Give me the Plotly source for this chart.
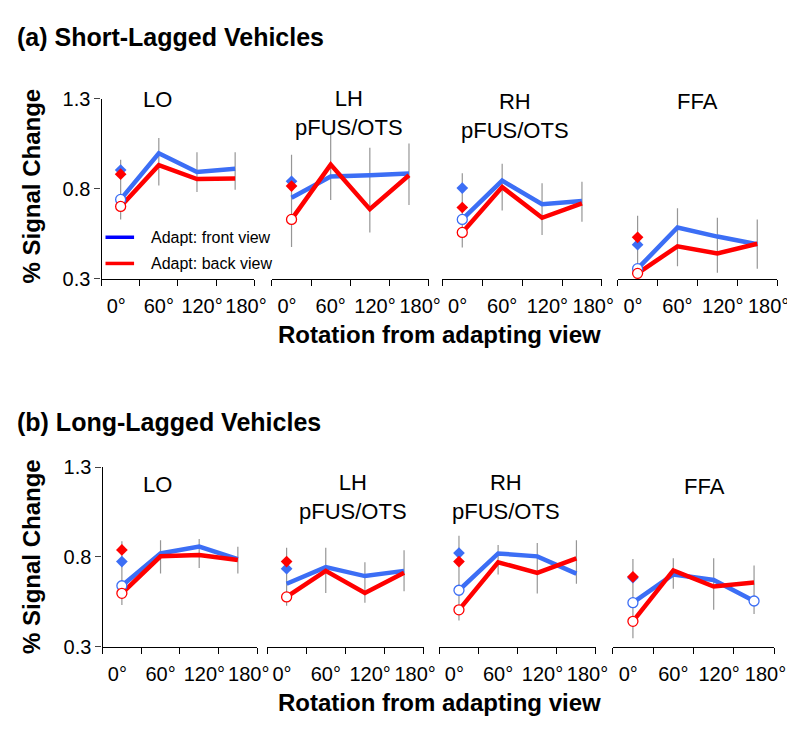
import plotly.graph_objects as go

# rotation angles and region names
angles = [0, 60, 120, 180]
angle_labels = ["0°", "60°", "120°", "180°"]
label_pos = [-7, 60, 128, 197]  # where the crowded tick labels sit
regions = ["LO", "LH<br>pFUS/OTS", "RH<br>pFUS/OTS", "FFA"]

# (a) short-lagged: lines, 0-deg diamonds, error bar ends, open circles (indices)
a_front = [[0.741, 0.997, 0.893, 0.911], [0.750, 0.868, 0.875, 0.884],
           [0.630, 0.845, 0.714, 0.732], [0.357, 0.585, 0.535, 0.492]]
a_back = [[0.702, 0.931, 0.854, 0.857], [0.630, 0.934, 0.687, 0.875],
          [0.558, 0.809, 0.639, 0.719], [0.331, 0.481, 0.441, 0.495]]
a_front_diamond = [0.904, 0.841, 0.804, 0.490]
a_back_diamond = [0.881, 0.815, 0.696, 0.531]
a_err_lo = [[0.630, 0.818, 0.782, 0.795], [0.477, 0.737, 0.558, 0.710],
            [0.474, 0.680, 0.544, 0.617], [0.312, 0.370, 0.334, 0.357]]
a_err_hi = [[0.961, 1.081, 1.003, 1.003], [0.988, 1.105, 1.027, 1.051],
            [0.886, 0.938, 0.831, 0.839], [0.651, 0.692, 0.639, 0.630]]
a_front_open = [[0], [], [0], [0]]
a_back_open = [[0], [0], [0], [0]]

# (b) long-lagged
b_front = [[0.639, 0.819, 0.857, 0.788], [0.650, 0.743, 0.693, 0.722],
           [0.614, 0.819, 0.803, 0.707], [0.545, 0.702, 0.671, 0.554]]
b_back = [[0.597, 0.803, 0.810, 0.783], [0.577, 0.722, 0.599, 0.712],
          [0.505, 0.770, 0.711, 0.792], [0.441, 0.725, 0.635, 0.657]]
b_front_diamond = [0.774, 0.734, 0.821, 0.684]
b_back_diamond = [0.839, 0.774, 0.774, 0.689]
b_err_lo = [[0.532, 0.707, 0.738, 0.707], [0.527, 0.599, 0.545, 0.608],
            [0.446, 0.702, 0.596, 0.650], [0.347, 0.623, 0.505, 0.482]]
b_err_hi = [[0.887, 0.893, 0.900, 0.857], [0.851, 0.851, 0.770, 0.837],
            [0.918, 0.866, 0.878, 0.893], [0.788, 0.792, 0.792, 0.752]]
b_front_open = [[0], [], [0], [0, 3]]
b_back_open = [[0], [0], [0], [0]]

W, H = 795, 734
FONT = "Liberation Sans, Arial, sans-serif"
BLUE = "rgb(60,110,245)"
RED = "rgb(255,0,0)"
GREY = "rgb(150,150,150)"


def px(x):
    return x / W


def py(y):
    return 1 - y / H


panels = [
    dict(front=a_front, back=a_back, fd=a_front_diamond, bd=a_back_diamond,
         lo=a_err_lo, hi=a_err_hi, fo=a_front_open, bo=a_back_open,
         xdom=[(95, 250), (268, 427), (441, 603), (619, 781)], ydom=(268, 82),
         titles=[(152, 83), (346, 97), (515, 100), (700, 85)]),
    dict(front=b_front, back=b_back, fd=b_front_diamond, bd=b_back_diamond,
         lo=b_err_lo, hi=b_err_hi, fo=b_front_open, bo=b_back_open,
         xdom=[(96, 253), (263, 422), (438, 597), (614, 778)], ydom=(647, 462),
         titles=[(152, 480), (350, 493), (506, 493), (707, 482)]),
]

fig = go.Figure()
annotations = []
layout_axes = {}

n = 0
for p in panels:
    for k in range(4):
        n += 1
        xa = "x" if n == 1 else "x%d" % n
        ya = "y" if n == 1 else "y%d" % n

        # grey error bars
        fig.add_trace(go.Scatter(
            x=angles, y=p["lo"][k], xaxis=xa, yaxis=ya, mode="markers",
            marker=dict(size=1, opacity=0), showlegend=False, hoverinfo="skip",
            error_y=dict(type="data", symmetric=False,
                         array=[h - l for h, l in zip(p["hi"][k], p["lo"][k])],
                         arrayminus=[0] * 4, color=GREY, thickness=1.2, width=0)))

        for vals, col in [(p["front"][k], BLUE), (p["back"][k], RED)]:
            fig.add_trace(go.Scatter(
                x=angles, y=vals, xaxis=xa, yaxis=ya, mode="lines",
                line=dict(color=col, width=4.5), showlegend=False))
        for col, dia in [(BLUE, p["fd"][k]), (RED, p["bd"][k])]:
            fig.add_trace(go.Scatter(
                x=[0], y=[dia], xaxis=xa, yaxis=ya, mode="markers",
                marker=dict(symbol="diamond", size=9, color=col), showlegend=False))
        for vals, col, opn in [(p["front"][k], BLUE, p["fo"][k]),
                               (p["back"][k], RED, p["bo"][k])]:
            if opn:
                fig.add_trace(go.Scatter(
                    x=[angles[i] for i in opn], y=[vals[i] for i in opn],
                    xaxis=xa, yaxis=ya, mode="markers", showlegend=False,
                    marker=dict(symbol="circle", size=10, color="white",
                                line=dict(color=col, width=1.3))))

        x0, x1 = p["xdom"][k]
        y0, y1 = p["ydom"]
        layout_axes["xaxis" if n == 1 else "xaxis%d" % n] = dict(
            domain=[px(x0), px(x1)], anchor=ya, range=[-30, 210],
            tickmode="array", tickvals=label_pos, ticktext=angle_labels, tickangle=0,
            ticks="outside", ticklen=9, tickcolor="rgba(0,0,0,0)",
            minor=dict(tickmode="array", tickvals=[-30, 30, 90, 150, 210],
                       ticks="outside", ticklen=6, tickwidth=1.3, tickcolor="black"),
            showline=True, linecolor="black", linewidth=1.3, showgrid=False,
            zeroline=False, tickfont=dict(size=20, color="black"))
        yax = dict(domain=[py(y0), py(y1)], anchor=xa, range=[0.3, 1.3],
                   showgrid=False, zeroline=False)
        if k == 0:
            yax.update(showline=True, linecolor="black", linewidth=1.3,
                       ticks="outside", ticklen=6, tickwidth=1.3,
                       tickvals=[0.3, 0.8, 1.3], ticktext=["0.3", "0.8", "1.3"],
                       tickfont=dict(size=20, color="black"))
        else:
            yax.update(visible=False)
        layout_axes["yaxis" if n == 1 else "yaxis%d" % n] = yax

        tx, ty = p["titles"][k]
        annotations.append(dict(x=px(tx), y=py(ty), xref="paper", yref="paper",
                                text=regions[k], showarrow=False,
                                font=dict(size=22, color="black"),
                                xanchor="center", yanchor="middle"))

# panel headings and axis titles
for txt, y in [("(a) Short-Lagged Vehicles", 19), ("(b) Long-Lagged Vehicles", 415)]:
    annotations.append(dict(x=px(7), y=py(y), xref="paper", yref="paper",
                            text="<b>%s</b>" % txt, showarrow=False,
                            font=dict(size=25, color="black"),
                            xanchor="left", yanchor="middle"))
for y in [172, 554]:
    annotations.append(dict(x=px(24), y=py(y), xref="paper", yref="paper",
                            text="<b>% Signal Change</b>", textangle=-90,
                            showarrow=False, font=dict(size=24, color="black"),
                            xanchor="center", yanchor="middle"))
for y in [325, 705]:
    annotations.append(dict(x=px(438), y=py(y), xref="paper", yref="paper",
                            text="<b>Rotation from adapting view</b>",
                            showarrow=False, font=dict(size=24, color="black"),
                            xanchor="center", yanchor="middle"))

# legend drawn inside the first subplot
shapes = []
for txt, col, y in [("Adapt: front view", "rgb(0,0,255)", 225),
                    ("Adapt: back view", "rgb(255,0,0)", 252)]:
    shapes.append(dict(type="line", xref="paper", yref="paper",
                       x0=px(99), x1=px(128), y0=py(y), y1=py(y),
                       line=dict(color=col, width=3.5)))
    annotations.append(dict(x=px(143), y=py(y), xref="paper", yref="paper",
                            text=txt, showarrow=False,
                            font=dict(size=16, color="black"),
                            xanchor="left", yanchor="middle"))

fig.update_layout(
    width=W, height=H, margin=dict(l=0, r=0, t=0, b=0),
    paper_bgcolor="white", plot_bgcolor="white",
    font=dict(family=FONT, color="black"),
    showlegend=False, annotations=annotations, shapes=shapes,
    **layout_axes)

fig.write_html("out.html")
